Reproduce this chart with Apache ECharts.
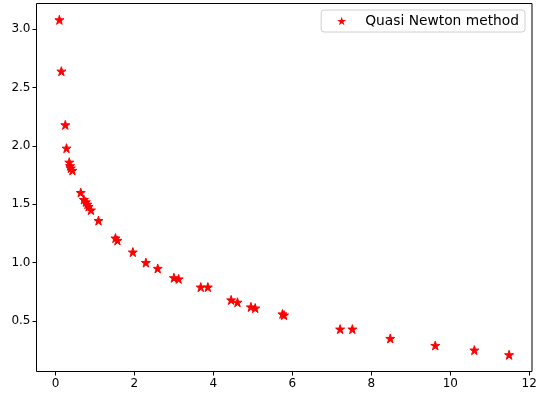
<!DOCTYPE html>
<html>
<head>
<meta charset="utf-8">
<script src="https://cdn.jsdelivr.net/npm/echarts@6/dist/echarts.min.js"></script>
<style>
  html, body { margin: 0; padding: 0; background: #fff; }
  #chart { width: 540px; height: 398px; }
</style>
</head>
<body>
<div id="chart"></div>
<script>
// values
const xValues = [0.10, 0.15, 0.25, 0.28, 0.35, 0.37, 0.39, 0.43, 0.64, 0.72, 0.77, 0.81, 0.84, 0.90,
                 1.09, 1.52, 1.57, 1.96, 2.29, 2.59, 3.00, 3.12, 3.68, 3.86, 4.45, 4.61, 4.95, 5.06,
                 5.75, 5.79, 7.21, 7.52, 8.48, 9.62, 10.61, 11.49]
const yValues = [3.08, 2.64, 2.18, 1.98, 1.86, 1.83, 1.81, 1.79, 1.60, 1.54, 1.52, 1.50, 1.48, 1.45,
                 1.36, 1.21, 1.19, 1.09, 1.00, 0.95, 0.87, 0.86, 0.79, 0.79, 0.68, 0.66, 0.62, 0.61,
                 0.56, 0.55, 0.43, 0.43, 0.35, 0.29, 0.25, 0.21]
const xTicks = [0, 2, 4, 6, 8, 10, 12]
const yTicks = [0.5, 1.0, 1.5, 2.0, 2.5, 3.0]
const seriesName = 'Quasi Newton method'

const star = 'path://M0,-10 L2.245,-3.09 L9.51,-3.09 L3.63,1.18 L5.88,8.09 L0,3.82 L-5.88,8.09 L-3.63,1.18 L-9.51,-3.09 L-2.245,-3.09 Z'
const font = 'DejaVu Sans'

const points = xValues.map((x, i) => [x, yValues[i]])

const chart = echarts.init(document.getElementById('chart'))
chart.setOption({
    animation: false,
    backgroundColor: '#fff',
    grid: {
        left: 36.5, right: 8, top: 3.5, bottom: 26.5,
        show: true, borderColor: '#000', borderWidth: 1
    },
    legend: {
        top: 10, right: 15,
        padding: [4, 6, 4, 16],
        borderColor: '#d0d0d0', borderWidth: 1, borderRadius: 3,
        backgroundColor: '#fff',
        itemWidth: 9, itemHeight: 9,
        itemStyle: { borderWidth: 0 },
        textStyle: { fontFamily: font, fontSize: 13.8, color: '#000', padding: [0, 0, 0, 14] },
        data: [{ name: seriesName, icon: star, itemStyle: { color: '#ff0000', opacity: 1, borderWidth: 0 } }]
    },
    xAxis: {
        type: 'value', min: -0.48, max: 12.07,
        splitLine: { show: false },
        axisLine: { show: false, onZero: false },
        axisTick: { show: true, length: 4, inside: false, customValues: xTicks, lineStyle: { color: '#000' } },
        axisLabel: { customValues: xTicks, fontFamily: font, fontSize: 12, color: '#000', margin: 6 }
    },
    yAxis: {
        type: 'value', min: 0.067, max: 3.22,
        splitLine: { show: false },
        axisLine: { show: false, onZero: false },
        axisTick: { show: true, length: 4, inside: false, customValues: yTicks, lineStyle: { color: '#000' } },
        axisLabel: {
            customValues: yTicks, fontFamily: font, fontSize: 12, color: '#000', margin: 6,
            formatter: v => v.toFixed(1)
        }
    },
    series: [{
        name: seriesName,
        type: 'scatter',
        symbol: star,
        symbolSize: 9,
        itemStyle: { color: '#ff0000', opacity: 1, borderColor: '#ff0000', borderWidth: 1 },
        data: points
    }]
})
</script>
</body>
</html>
